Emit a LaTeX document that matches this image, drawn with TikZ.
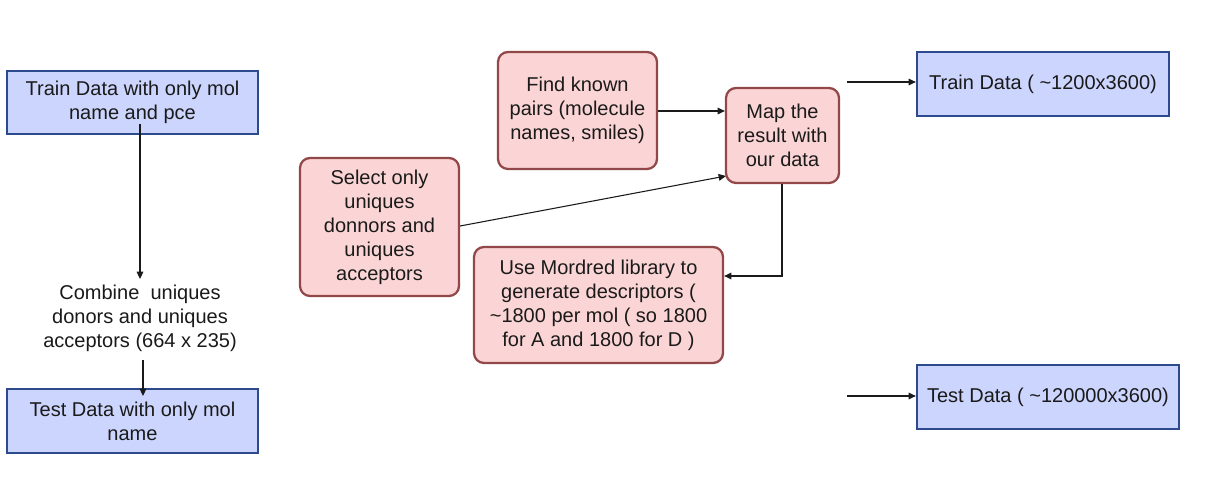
\documentclass[tikz,border=0pt]{standalone}
\usepackage{fontspec}
\setmainfont{Liberation Sans}
\usetikzlibrary{arrows.meta}
\definecolor{bluefill}{HTML}{CCD5FD}
\definecolor{bluedraw}{HTML}{2C4A8C}
\definecolor{pinkfill}{HTML}{FBD5D5}
\definecolor{pinkdraw}{HTML}{924848}
\definecolor{linec}{HTML}{1A1A1A}
\definecolor{txtc}{HTML}{1A1A1A}
\tikzset{
  txt/.style={font=\fontsize{15}{18}\selectfont, text=txtc, align=center},
  sz/.style 2 args={minimum width=#1*0.75pt, minimum height=#2*0.75pt},
  bluebox/.style={txt, draw=bluedraw, fill=bluefill, line width=1.7pt, inner sep=0pt},
  pinkbox/.style={txt, draw=pinkdraw, fill=pinkfill, line width=1.7pt, inner sep=0pt, rounded corners=7.5pt},
  conn/.style={draw=linec, line width=0.8pt, -{Triangle[length=5.5pt,width=5pt]}},
}
\begin{document}
\begin{tikzpicture}[x=0.75pt,y=-0.75pt]
\useasboundingbox (0,0) rectangle (1222,495);
\fill[white] (0,0) rectangle (1222,495);

% left column
\node[bluebox, sz={251}{63}] (trainL) at (132.5,102.5) {Train Data with only mol\\name and pce};
\node[txt, inner sep=0pt] (combine) at (140,318) {Combine\ \ uniques\\donors and uniques\\acceptors (664 x 235)};
\node[bluebox, sz={251}{64}] (testL) at (132.5,421) {Test Data with only mol\\name};

% middle
\node[pinkbox, sz={159}{138}] (select) at (379.5,227) {Select only\\uniques\\donnors and\\uniques\\acceptors};
\node[pinkbox, sz={159}{117}] (find) at (577.5,110.5) {Find known\\pairs (molecule\\names, smiles)};
\node[pinkbox, sz={113}{95}] (map) at (782.5,135.5) {Map the\\result with\\our data};
\node[pinkbox, sz={249}{116}] (mord) at (598.5,305) {Use Mordred library to\\generate descriptors (\\\textasciitilde1800 per mol ( so 1800\\for A and 1800 for D )};

% right
\node[bluebox, sz={252}{64}] (trainR) at (1043,84) {Train Data ( \textasciitilde1200x3600)};
\node[bluebox, sz={262}{64}] (testR) at (1048,397) {Test Data ( \textasciitilde120000x3600)};

% connector points
\coordinate (c1s) at (140,124);
\coordinate (c1e) at (140,279);
\coordinate (c2s) at (143,360);
\coordinate (c2e) at (143,396);
\coordinate (c3e) at (726,176);
\coordinate (trs) at (847,82);
\coordinate (tes) at (847,396);

% connectors
\draw[conn] (c1s) -- (c1e);
\draw[conn] (c2s) -- (c2e);
\draw[conn] (find.east |- 0,111) -- (map.west |- 0,111);
\draw[conn] (select.east |- 0,226) -- (c3e);
\draw[conn] (map.south -| 782,0) |- (mord.east |- 0,276);
\draw[conn] (trs) -- (trainR.west |- trs);
\draw[conn] (tes) -- (testR.west |- tes);
\end{tikzpicture}
\end{document}
